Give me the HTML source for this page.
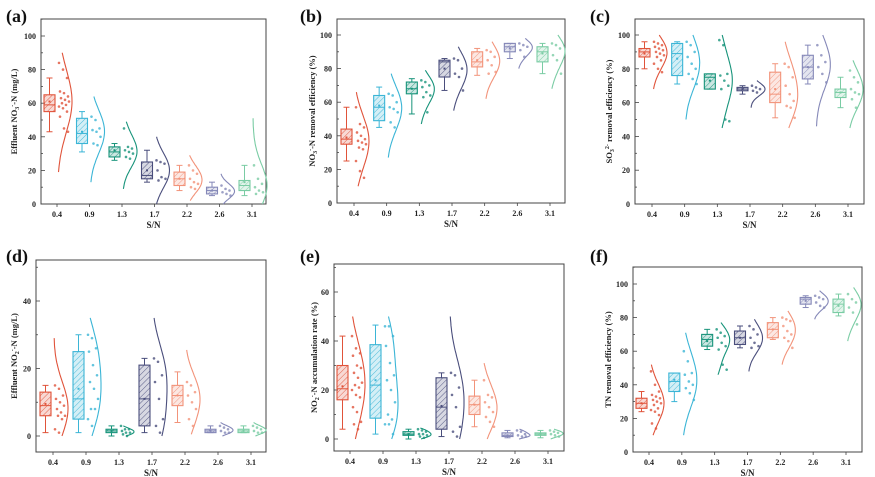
<!DOCTYPE html>
<html><head><meta charset="utf-8">
<style>
html,body{margin:0;padding:0;background:#fff;}
svg{display:block;font-family:"Liberation Serif","DejaVu Serif",serif;}
</style></head>
<body>
<svg id="fig" width="875" height="477" viewBox="0 0 875 477" xmlns="http://www.w3.org/2000/svg">
<defs id="defs"></defs>
</svg>
<script>
const cats = ["0.4","0.9","1.3","1.7","2.2","2.6","3.1"];
const colors = ["#e0533a","#3bb5d6","#17937a","#4a4e7c","#f2937a","#8588b8","#7acca4"];

// Panel (a) Effluent NO3--N
const statsA = [[43,55,59,65,75],[31,36,42,51,55],[26,28,31,34,36],[13,15,17,25,32],[8,11,15,19,23],[5,6,8,10,13],[5,8,11,14,23]];
const meanA = [61,43,32,20,15,8,13];
const violinA = [[19,90],[13,64],[9,49],[0,40],[2,29],[0,18],[0,51]];
const pointsA = [[84,80,75,67,66,64,63,62,61,60,59,58,57,55,52,45,43],[52,50,45,44,43,40,36,35],[45,34,33,32,31,30,28,27],[26,25,24,20,16,15,14],[23,20,18,15,13,12,10,9],[11,9,8,7,6,5],[23,15,12,10,8,7,6]];
// Panel (b) NO3--N removal efficiency
const statsB = [[25,35,38,44,57],[45,49,57,64,69],[53,65,68,72,74],[67,75,84,85,86],[76,81,84,90,92],[86,90,93,95,95],[77,84,90,93,95]];
const meanB = [39,58,68,80,85,92,89];
const violinB = [[10,66],[27,77],[47,79],[55,93],[62,96],[80,98],[68,100]];
const pointsB = [[57,47,45,42,40,38,37,36,35,33,32,25,19,15],[65,64,60,57,56,54,48,45],[73,72,70,69,66,64,63,54],[86,85,80,77,75,67],[91,90,87,85,82,78,77],[95,94,93,91,87],[95,94,92,88,85,77]];
// Panel (c) SO3 2- removal efficiency
const statsC = [[80,87,90,92,96],[71,76,89,95,96],[68,68,75,77,77],[65,67,68,69,70],[51,60,65,78,83],[71,74,81,88,94],[57,63,66,68,75]];
const meanC = [89,86,73,68,68,81,66];
const violinC = [[68,100],[50,100],[45,100],[57,73],[45,96],[46,100],[45,85]];
const pointsC = [[96,95,94,93,92,91,90,89,88,87,85,83,80,78],[96,94,90,87,83,80,77,74,71],[97,94,77,76,73,70,68,50,49],[70,69,68,67,66],[83,81,75,70,65,61,58,57,51],[94,88,84,81,77,72],[79,75,72,68,66,65,62,57]];
// Panel (d) Effluent NO2--N
const statsD = [[1,6,9,13,15],[1,5,11,25,30],[0,1,1.5,2,3],[1,3,11,21,23],[4,9,12,15,19],[1,1,1.5,2,3],[1,1,1.5,2,3]];
const meanD = [9.5,14,1.5,11,12,1.5,1.5];
const violinD = [[0,29],[0,35],[0,3],[0,35],[0.5,25.5],[0,4],[0,4]];
const pointsD = [[15,14,12,11,10,9,8,7,6,6,5,2,1],[30,29,26,25,21,18,16,14,11,8,8,5,3],[3,2,2,1.5,1,1,0.5,0],[23,22,18,16,11,5,3,1],[16,15,13,12,10,8,5,3],[3,2.5,2,1.5,1,1],[3,2.5,2,1.5,1,1]];
// Panel (e) NO2--N accumulation rate
const statsE = [[4,16,20.5,30,42],[2,8.5,22,38.5,46.5],[0,1.5,2,3,4],[1,4,13,25,27],[5,10,14,17.5,24],[0.5,1,1.5,2.5,3.5],[0.5,1.5,2,2.5,3.5]];
const meanE = [21.5,24,2,13.5,14,1.5,2];
const violinE = [[0,50],[0,50],[0,4.5],[0,50],[0,31],[0,4],[0,4]];
const pointsE = [[42,37,35,34,30,29,27,25,23,22,21,20,18,17,13,11,7,6,4],[46,46,42,38,31,26,24,20,15,10,8,6,6,2],[4,3.5,3,2,2,1.5,1,0.5],[27,26,21,18,13,5,3,1],[24,18,17,15,13,11,9,7,5],[3.5,3,2,1.5,1,1],[3.5,3,2.5,2,1.5,1]];
// Panel (f) TN removal efficiency
const statsF = [[24,26,29,32,36],[30,36,42,47,47],[61,63,67,70,73],[62,64,68,72,75],[67,68,73,77,80],[86,88,91,92,93],[81,83,88,91,94]];
const meanF = [29,43,66,68,73,90,87];
const violinF = [[10,52],[10,71],[46,77],[48,79],[52,84],[79,96],[66,98]];
const pointsF = [[48,40,36,34,33,32,31,30,29,28,26,25,24,22,17,14],[60,54,47,46,42,40,38,35,31],[73,71,69,68,65,63,61,52,49],[75,73,70,68,65,63,62],[80,79,78,75,72,70,68,66,62],[93,92,91,89,87,86],[94,91,89,86,83,76]];

const yTicksA = [0,20,40,60,80,100];
const yTicksD = [0,20,40];
const yTicksE = [0,20,40,60];

const NS = "http://www.w3.org/2000/svg";
const svg = document.getElementById("fig");
const defs = document.getElementById("defs");
function mk(tag, attrs, parent){
  const e = document.createElementNS(NS, tag);
  for (const k in attrs) e.setAttribute(k, attrs[k]);
  (parent||svg).appendChild(e);
  return e;
}
colors.forEach((c,i)=>{
  const p = mk("pattern",{id:"h"+i,width:"4",height:"4",patternUnits:"userSpaceOnUse",patternTransform:"rotate(45)"},defs);
  mk("rect",{width:"4",height:"4",fill:c,"fill-opacity":"0.22"},p);
  mk("line",{x1:"0",y1:"0",x2:"0",y2:"4",stroke:c,"stroke-width":"0.9"},p);
});

const panels = [
 {id:"a",label:"(a)",lx:6,ly:22,L:41,R:266,T:19,B:204,y0:204,y1:36,v0:0,v1:100,x0:57,x6:252,ticks:yTicksA,minor:10,title:["Effluent NO","3","-","-N (mg/L)"],tx:17,stats:statsA,mean:meanA,vio:violinA,pts:pointsA},
 {id:"b",label:"(b)",lx:300,ly:22,L:337,R:565,T:19,B:203,y0:203,y1:35,v0:0,v1:100,x0:354,x6:550,ticks:yTicksA,minor:10,title:["NO","3","-","-N removal efficiency (%)"],tx:315,stats:statsB,mean:meanB,vio:violinB,pts:pointsB},
 {id:"c",label:"(c)",lx:590,ly:22,L:635,R:864,T:19,B:204,y0:204,y1:35,v0:0,v1:100,x0:652,x6:848,ticks:yTicksA,minor:10,title:["SO","3","2-"," removal efficiency (%)"],tx:612,stats:statsC,mean:meanC,vio:violinC,pts:pointsC},
 {id:"d",label:"(d)",lx:6,ly:262,L:36,R:266,T:260,B:452,y0:436,y1:301,v0:0,v1:40,x0:53,x6:251,ticks:yTicksD,minor:10,title:["Effluent NO","2","-","-N (mg/L)"],tx:17,stats:statsD,mean:meanD,vio:violinD,pts:pointsD},
 {id:"e",label:"(e)",lx:300,ly:262,L:334,R:564,T:264,B:451,y0:439,y1:292,v0:0,v1:60,x0:350,x6:548,ticks:yTicksE,minor:10,title:["NO","2","-","-N accumulation rate (%)"],tx:317,stats:statsE,mean:meanE,vio:violinE,pts:pointsE},
 {id:"f",label:"(f)",lx:590,ly:262,L:633,R:862,T:267,B:452,y0:452,y1:284,v0:0,v1:100,x0:649,x6:846,ticks:yTicksA,minor:10,title:["TN removal efficiency (%)","","",""],tx:611,stats:statsF,mean:meanF,vio:violinF,pts:pointsF}
];

panels.forEach(P=>{
  const g = mk("g",{});
  
  
  const Y = v => P.y0 + (v-P.v0)*(P.y1-P.y0)/(P.v1-P.v0);
  const X = i => P.x0 + i*(P.x6-P.x0)/(cats.length-1);
  const lab = mk("text",{x:P.lx,y:P.ly,"font-size":"18","font-weight":"bold",fill:"#111"},g);
  lab.textContent = P.label;
  
  
  const fr = mk("rect",{x:P.L,y:P.T,width:P.R-P.L,height:P.B-P.T,fill:"none",stroke:"#444","stroke-width":"1"},g);
  
  
  const yMin = ((P.B-P.y0)/(P.y1-P.y0))*(P.v1-P.v0)+P.v0;
  const yMaxV = ((P.T-P.y0)/(P.y1-P.y0))*(P.v1-P.v0)+P.v0;
  for (let v = Math.ceil(yMin/P.minor)*P.minor; v<=yMaxV; v+=P.minor){
    const y = Y(v);
    const major = P.ticks.includes(v);
    mk("line",{x1:P.L,x2:P.L+(major?4:2),y1:y,y2:y,stroke:"#444","stroke-width":"0.8"},g);
  }
  P.ticks.forEach(v=>{
    const t = mk("text",{x:P.L-5,y:Y(v)+3,"font-size":"8","font-weight":"bold","text-anchor":"end",fill:"#222"},g);
    t.textContent = v;
    
    
  });
  const cy = (P.T+P.B)/2;
  const tt = mk("text",{x:P.tx,y:cy,"font-size":"8.5","font-weight":"bold","text-anchor":"middle",fill:"#222",transform:`rotate(-90 ${P.tx} ${cy})`},g);
  
  
  const s0 = document.createElementNS(NS,"tspan"); s0.textContent = P.title[0]; tt.appendChild(s0);
  if (P.title[1]){
    const s1 = document.createElementNS(NS,"tspan"); s1.setAttribute("font-size","6"); s1.setAttribute("dy","2"); s1.textContent=P.title[1]; tt.appendChild(s1);
    const s2 = document.createElementNS(NS,"tspan"); s2.setAttribute("font-size","6"); s2.setAttribute("dy","-5"); s2.textContent=P.title[2]; tt.appendChild(s2);
    const s3 = document.createElementNS(NS,"tspan"); s3.setAttribute("dy","3"); s3.textContent=P.title[3]; tt.appendChild(s3);
  }
  cats.forEach((c,i)=>{
    mk("line",{x1:X(i),x2:X(i),y1:P.B,y2:P.B+3,stroke:"#444","stroke-width":"0.8"},g);
    const t = mk("text",{x:X(i),y:P.B+13,"font-size":"8","font-weight":"bold","text-anchor":"middle",fill:"#222"},g);
    t.textContent = c;
    
    
  });
  const xt = mk("text",{x:(P.L+P.R)/2,y:P.B+24,"font-size":"9","font-weight":"bold","text-anchor":"middle",fill:"#222"},g);
  xt.textContent = "S/N";
  
  
  cats.forEach((c,i)=>{
    const col = colors[i];
    const cx = X(i);
    const sg = mk("g",{},g);
    
    
    const [lo,q1,md,q3,hi] = P.stats[i];
    const bl = cx-13, br = cx-2, bc = (bl+br)/2;
    mk("line",{x1:bc,x2:bc,y1:Y(hi),y2:Y(q3),stroke:col,"stroke-width":"1"},sg);
    mk("line",{x1:bc,x2:bc,y1:Y(q1),y2:Y(lo),stroke:col,"stroke-width":"1"},sg);
    mk("line",{x1:bc-3,x2:bc+3,y1:Y(hi),y2:Y(hi),stroke:col,"stroke-width":"1"},sg);
    mk("line",{x1:bc-3,x2:bc+3,y1:Y(lo),y2:Y(lo),stroke:col,"stroke-width":"1"},sg);
    const bx = mk("rect",{x:bl,y:Y(q3),width:br-bl,height:Math.max(0.8,Y(q1)-Y(q3)),fill:`url(#h${i})`,stroke:col,"stroke-width":"1.1"},sg);
    
    
    mk("line",{x1:bl,x2:br,y1:Y(md),y2:Y(md),stroke:col,"stroke-width":"1"},sg);
    mk("rect",{x:bc-1,y:Y(P.mean[i])-1,width:2,height:2,fill:col},sg);
    const pts = P.pts[i];
    const [vlo,vhi] = P.vio[i];
    const h = Math.max((vhi-vlo)/4.5, 0.5);
    const N = 40, dens=[];
    for (let k=0;k<=N;k++){
      const v = vlo + (vhi-vlo)*k/N;
      let d=0; pts.forEach(p=>{ d += Math.exp(-0.5*((v-p)/h)**2); });
      dens.push([v,d]);
    }
    const mx = Math.max(...dens.map(d=>d[1]));
    const mn = Math.min(dens[0][1], dens[N][1]);
    let dstr = "";
    dens.forEach(([v,d],k)=>{ dstr += (k?"L":"M")+(cx+1+14*Math.max(0,d-mn*0.5)/(mx-mn*0.5)).toFixed(1)+","+Y(v).toFixed(1); });
    const vp = mk("path",{d:dstr,fill:"none",stroke:col,"stroke-width":"1.1"},sg);
    
    
    pts.forEach((p,k)=>{
      const off = 2 + ((k*37)%11);
      const dot = mk("circle",{cx:cx+off,cy:Y(p),r:1.3,fill:col,"fill-opacity":"0.8"},sg);
      
      
    });
  });
});
</script>
</body></html>
